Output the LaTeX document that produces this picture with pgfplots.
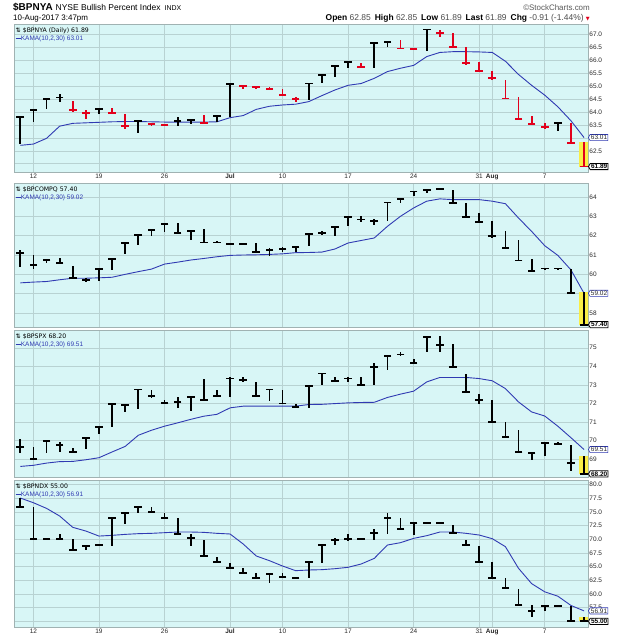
\documentclass[border=0pt]{standalone}
\usepackage{fontspec}
\setmainfont{Liberation Sans}
\newfontfamily\dejavu{DejaVu Sans}
\usepackage{pgfplots}
\pgfplotsset{compat=1.18}
\usepackage{pgfplotstable}
\usetikzlibrary{shapes.symbols}

\definecolor{bgc}{RGB}{216,246,246}
\definecolor{gridc}{RGB}{184,210,210}
\definecolor{framec}{RGB}{160,178,178}
\definecolor{kamac}{RGB}{48,58,178}
\definecolor{dnc}{RGB}{226,0,28}
\definecolor{hlc}{RGB}{250,238,70}
\definecolor{txtc}{RGB}{40,40,40}

\newcommand\fs[1]{\fontsize{#1}{#1}\selectfont}

\pgfplotsset{
  panel/.style={
    scale only axis, width=574bp,
    xmin=-0.48, xmax=43.3,
    axis background/.style={fill=bgc},
    axis line style={draw=framec, line width=0.5bp},
    grid=major, major grid style={draw=gridc, line width=0.5bp},
    xtick={1,6,11,16,20,25,30,35,36,40},
    xticklabels={12,19,26,\textbf{Jul},10,17,24,31,\textbf{Aug},7},
    xticklabel style={font=\fs{6.5}, text=txtc, inner sep=1.5bp},
    yticklabel pos=right,
    yticklabel style={font=\fs{6.5}, text=txtc, inner sep=1.2bp, anchor=west},
    major tick length=0pt,
    /pgf/number format/assume math mode=true,
    anchor=north west,
  },
  nolabels/.style={xticklabels={}},
  hl/.style={forget plot, draw=none, mark=none,
    error bars/y dir=both, error bars/y explicit, error bars/error mark=none,
    error bars/error bar style={draw=hlc, line width=10bp, solid}},
  rng/.style={forget plot, draw=none, mark=none,
    error bars/y dir=both, error bars/y explicit, error bars/error mark=none,
    error bars/error bar style={draw=#1, line width=1.8bp, solid}},
  cls/.style={forget plot, only marks, mark=-, mark size=3.8bp, color=#1,
    mark options={draw=#1, line width=1.8bp, solid}},
  kama/.style={forget plot, no marks, draw=kamac, line width=0.9bp},
}
\tikzset{
  tagk/.style={signal, signal to=west, signal pointer angle=120, draw=kamac,
    fill=white, line width=0.6bp, inner sep=0.8bp, font=\fs{6.5}, text=txtc, anchor=west},
  tagc/.style={signal, signal to=west, signal pointer angle=120, draw=black,
    fill=white, line width=0.8bp, inner sep=0.8bp, font=\bfseries\fs{6.5}, anchor=west},
}

% x = trading day (0 = 9 Jun 2017 ... 43 = 10 Aug 2017); h/l/c = high, low, close; k = KAMA(10,2,30)
\pgfplotstableread{
x h l c k dn
0 63.79 62.78 63.79 62.71 0
1 64.07 63.62 64.07 62.76 0
2 64.49 64.10 64.49 62.98 0
3 64.69 64.40 64.56 63.45 0
4 64.43 64.00 64.07 63.56 1
5 64.07 63.72 63.97 63.58 1
6 64.11 63.94 64.11 63.60 0
7 64.14 63.94 63.96 63.62 1
8 63.92 63.36 63.45 63.63 1
9 63.69 63.17 63.66 63.63 0
10 63.58 63.47 63.53 63.62 1
11 63.55 63.44 63.49 63.61 1
12 63.79 63.47 63.66 63.61 0
13 63.72 63.53 63.69 63.61 0
14 63.88 63.53 63.56 63.61 1
15 63.88 63.62 63.84 63.62 0
16 65.08 63.82 65.08 63.78 0
17 65.02 64.87 65.00 63.86 1
18 64.99 64.87 64.95 64.10 1
19 64.95 64.87 64.90 64.22 1
20 64.87 64.61 64.65 64.27 1
21 64.56 64.40 64.49 64.30 1
22 65.10 64.46 65.10 64.40 0
23 65.43 65.13 65.43 64.63 0
24 65.78 65.36 65.78 64.85 0
25 65.95 65.68 65.92 65.03 0
26 65.88 65.72 65.74 65.10 1
27 66.68 65.68 66.68 65.30 0
28 66.72 66.52 66.69 65.56 0
29 66.78 66.43 66.45 65.69 1
30 66.46 66.40 66.42 65.80 1
31 67.19 66.37 67.19 66.14 0
32 67.17 66.88 67.04 66.30 1
33 67.04 66.46 66.52 66.33 1
34 66.52 65.81 65.88 66.33 1
35 65.94 65.55 65.58 66.32 1
36 65.60 65.23 65.30 66.30 1
37 65.23 64.50 64.52 65.96 1
38 64.59 63.71 63.74 65.45 1
39 63.84 63.50 63.52 65.03 1
40 63.58 63.36 63.43 64.65 1
41 63.58 63.27 63.56 64.20 0
42 63.56 62.76 62.80 63.66 1
43 62.85 61.89 61.89 63.01 1
}\nya

\pgfplotstableread{
x h l c k
0 61.27 60.37 61.10 59.56
1 61.00 60.27 60.50 59.60
2 60.75 60.58 60.75 59.63
3 60.84 60.58 60.60 59.72
4 60.41 59.80 59.82 59.80
5 59.80 59.63 59.72 59.80
6 60.30 59.68 60.29 59.82
7 60.80 60.23 60.80 59.85
8 61.62 61.06 61.62 60.00
9 62.05 61.53 62.05 60.14
10 62.30 61.96 62.30 60.27
11 62.62 62.20 62.60 60.53
12 62.65 62.10 62.12 60.63
13 62.26 61.79 62.24 60.74
14 62.34 61.62 61.65 60.82
15 61.70 61.60 61.65 60.91
16 61.60 61.53 61.56 60.98
17 61.62 61.53 61.58 61.00
18 61.62 61.13 61.17 61.01
19 61.36 60.96 61.27 61.03
20 61.40 61.15 61.30 61.06
21 61.44 61.17 61.40 61.12
22 62.13 61.44 62.10 61.13
23 62.22 62.05 62.13 61.15
24 62.48 62.00 62.45 61.31
25 63.00 62.48 62.96 61.62
26 63.00 62.69 62.83 61.75
27 62.84 62.57 62.74 61.88
28 63.74 62.74 63.71 62.48
29 63.95 63.69 63.90 63.00
30 64.31 64.03 64.28 63.43
31 64.38 64.20 64.35 63.78
32 64.47 64.35 64.43 63.90
33 64.38 63.65 63.69 63.86
34 63.69 62.91 62.96 63.86
35 63.17 62.65 62.69 63.86
36 62.74 61.86 62.00 63.78
37 62.22 61.32 61.36 63.65
38 61.75 60.67 60.72 62.91
39 60.79 60.15 60.18 62.22
40 60.35 60.22 60.30 61.48
41 60.33 60.25 60.30 60.98
42 60.27 59.03 59.03 60.23
43 59.11 57.40 57.40 59.02
}\compq

\pgfplotstableread{
x h l c k
0 70.10 69.33 69.65 68.60
1 69.65 68.96 69.00 68.66
2 69.98 69.32 69.98 68.78
3 69.92 69.40 69.74 68.86
4 69.62 69.32 69.38 68.87
5 70.16 69.56 70.15 68.96
6 70.77 70.37 70.73 69.07
7 72.00 70.73 71.95 69.38
8 71.95 71.54 71.92 69.68
9 72.80 71.72 72.75 70.28
10 72.71 72.31 72.39 70.55
11 72.17 71.95 72.03 70.77
12 72.35 71.77 72.08 70.95
13 72.39 71.60 72.35 71.14
14 73.34 72.17 72.17 71.31
15 72.75 72.39 72.42 71.41
16 73.40 72.35 73.34 71.76
17 73.40 73.16 73.25 71.85
18 73.16 72.35 72.39 71.85
19 72.80 72.14 72.75 71.85
20 72.75 71.95 71.99 71.85
21 71.95 71.77 71.81 71.85
22 72.98 71.77 72.95 71.94
23 73.65 72.98 73.61 71.95
24 73.40 73.16 73.22 71.99
25 73.43 73.16 73.34 72.03
26 73.40 72.98 73.00 72.05
27 74.19 72.98 73.97 72.06
28 74.60 73.79 74.57 72.32
29 74.78 74.55 74.64 72.50
30 74.42 74.15 74.19 72.66
31 75.63 74.78 75.59 73.16
32 75.63 74.78 75.14 73.40
33 75.23 73.97 73.97 73.40
34 73.58 72.57 72.62 73.40
35 72.50 71.99 72.17 73.34
36 72.17 70.95 71.00 73.22
37 71.00 70.15 70.19 72.80
38 70.55 69.32 69.38 72.08
39 69.38 68.96 69.32 71.54
40 69.92 69.14 69.88 71.32
41 69.94 69.79 69.83 70.77
42 69.74 68.35 68.78 70.15
43 69.14 68.20 68.20 69.51
}\spx

\pgfplotstableread{
x h l c k
0 77.50 75.85 75.98 77.56
1 75.85 69.88 70.00 76.70
2 70.05 69.95 70.00 75.67
3 70.98 69.88 70.00 74.27
4 70.00 67.93 68.05 72.20
5 68.90 68.05 68.78 71.52
6 69.02 68.90 68.96 70.60
7 73.84 68.78 73.84 70.73
8 74.88 72.80 74.88 70.91
9 75.85 74.76 75.85 71.04
10 75.85 74.88 74.94 71.10
11 74.76 73.84 73.84 71.22
12 73.84 70.79 70.91 71.34
13 70.98 68.78 70.18 71.34
14 69.88 66.83 66.95 71.28
15 66.83 65.73 65.85 71.10
16 65.73 64.70 64.82 70.98
17 64.82 63.78 63.90 69.15
18 63.90 62.87 62.99 66.95
19 63.66 61.95 63.66 66.10
20 63.90 62.99 63.05 65.12
21 63.05 62.93 62.99 64.27
22 66.10 62.87 65.91 64.39
23 69.09 65.73 68.96 64.45
24 70.18 68.96 69.88 64.63
25 70.91 69.76 70.00 64.88
26 70.05 69.95 70.00 65.49
27 71.83 69.88 71.10 66.52
28 74.88 70.98 73.96 68.96
29 73.84 71.83 71.83 69.39
30 73.05 70.79 72.93 70.18
31 72.98 72.88 72.93 70.67
32 72.98 72.88 72.93 71.34
33 72.62 70.90 71.10 71.34
34 69.88 68.78 68.90 71.10
35 68.78 65.73 65.85 70.79
36 65.91 62.87 62.99 70.12
37 62.99 60.85 61.04 68.66
38 60.85 57.80 57.93 64.70
39 58.00 55.85 56.95 61.90
40 57.93 56.95 57.80 60.40
41 57.92 57.82 57.87 59.60
42 57.80 55.00 55.00 57.90
43 55.85 55.00 55.00 56.91
}\ndx

\newcommand\hlbar[1]{\addplot[hl, restrict x to domain=42.5:43.5] table[x=x,
  y expr={0.5*(\thisrow{h}+\thisrow{l})}, y error expr={0.5*(\thisrow{h}-\thisrow{l})}]{#1};}
\newcommand\ohlc[1]{%
  \addplot[rng=black] table[x=x, y expr={0.5*(\thisrow{h}+\thisrow{l})},
    y error expr={0.5*(\thisrow{h}-\thisrow{l})}]{#1};
  \addplot[cls=black] table[x=x,y=c]{#1};}

\begin{document}
\begin{tikzpicture}
\useasboundingbox (0,0) rectangle (623bp,640bp);
\fill[white] (0,0) rectangle (623bp,640bp);

% header
\node[anchor=base west, inner sep=0] at (13bp,629bp)
  {{\bfseries\fs{10}\$BPNYA}\hspace{3bp}{\fs{8.5}NYSE Bullish Percent Index}\hspace{4bp}{\fs{7}INDX}};
\node[anchor=base west, inner sep=0, font=\fs{8}] at (13bp,619bp) {10-Aug-2017 3:47pm};
\node[anchor=base east, inner sep=0, font=\fs{8}, text=black!65] at (590bp,629bp) {\textcopyright StockCharts.com};
\node[anchor=base east, inner sep=0, font=\fs{8.5}] at (590bp,619bp)
  {\textbf{Open} {\color{black!70}62.85}\hspace{4bp}\textbf{High} {\color{black!70}62.85}\hspace{4bp}%
   \textbf{Low} {\color{black!70}61.89}\hspace{4bp}\textbf{Last} {\color{black!70}61.89}\hspace{4bp}%
   \textbf{Chg} {\color{black!70}-0.91 (-1.44\%)} {\dejavu\fs{5}\color{dnc}▼}};

% panel 1: $BPNYA
\begin{axis}[panel, at={(14bp,616bp)}, height=148bp, ymin=61.68, ymax=67.4,
  ytick={62,62.5,63,63.5,64,64.5,65,65.5,66,66.5,67},
  yticklabels={,62.5,,63.5,64.0,64.5,65.0,65.5,66.0,66.5,67.0}]
\hlbar{\nya}
\addplot[kama] table[x=x,y=k]{\nya};
\addplot[rng=black, restrict expr to domain={\thisrow{dn}}{-0.5:0.5}] table[x=x,
  y expr={0.5*(\thisrow{h}+\thisrow{l})}, y error expr={0.5*(\thisrow{h}-\thisrow{l})}]{\nya};
\addplot[cls=black, restrict expr to domain={\thisrow{dn}}{-0.5:0.5}] table[x=x,y=c]{\nya};
\addplot[rng=dnc, restrict expr to domain={\thisrow{dn}}{0.5:1.5}] table[x=x,
  y expr={0.5*(\thisrow{h}+\thisrow{l})}, y error expr={0.5*(\thisrow{h}-\thisrow{l})}]{\nya};
\addplot[cls=dnc, restrict expr to domain={\thisrow{dn}}{0.5:1.5}] table[x=x,y=c]{\nya};
\coordinate (tl1) at (rel axis cs:0,1);
\coordinate (k1) at (axis cs:43.3,63.01);
\coordinate (c1) at (axis cs:43.3,61.89);
\end{axis}

% panel 2: $BPCOMPQ
\begin{axis}[panel, nolabels, at={(14bp,457bp)}, height=144bp, ymin=57.28, ymax=64.72,
  ytick={58,59,60,61,62,63,64}, yticklabels={58,,60,61,62,63,64}]
\hlbar{\compq}
\addplot[kama] table[x=x,y=k]{\compq};
\ohlc{\compq}
\coordinate (tl2) at (rel axis cs:0,1);
\coordinate (k2) at (axis cs:43.3,59.02);
\coordinate (c2) at (axis cs:43.3,57.40);
\end{axis}

% panel 3: $BPSPX
\begin{axis}[panel, nolabels, at={(14bp,310bp)}, height=147bp, ymin=68.03, ymax=75.96,
  ytick={69,70,71,72,73,74,75}]
\hlbar{\spx}
\addplot[kama] table[x=x,y=k]{\spx};
\ohlc{\spx}
\coordinate (tl3) at (rel axis cs:0,1);
\coordinate (k3) at (axis cs:43.3,69.51);
\coordinate (c3) at (axis cs:43.3,68.20);
\end{axis}

% panel 4: $BPNDX
\begin{axis}[panel, at={(14bp,160bp)}, height=147bp, ymin=53.96, ymax=80.86,
  ytick={55,57.5,60,62.5,65,67.5,70,72.5,75,77.5,80},
  yticklabels={,57.5,60.0,62.5,65.0,67.5,70.0,72.5,75.0,77.5,80.0}]
\hlbar{\ndx}
\addplot[kama] table[x=x,y=k]{\ndx};
\ohlc{\ndx}
\coordinate (tl4) at (rel axis cs:0,1);
\coordinate (k4) at (axis cs:43.3,56.91);
\coordinate (c4) at (axis cs:43.3,55.00);
\end{axis}

% price tags
\node[tagk] at (k1) {63.01}; \node[tagc] at (c1) {61.89};
\node[tagk] at (k2) {59.02}; \node[tagc] at (c2) {57.40};
\node[tagk] at (k3) {69.51}; \node[tagc] at (c3) {68.20};
\node[tagk] at (k4) {56.91}; \node[tagc] at (c4) {55.00};

% legends
\foreach \p/\nm/\kv in {1/{\$BPNYA (Daily) 61.89}/63.01, 2/{\$BPCOMPQ 57.40}/59.02,
                        3/{\$BPSPX 68.20}/69.51, 4/{\$BPNDX 55.00}/56.91}{
  \node[anchor=base west, inner sep=0, font=\dejavu\fs{6.2}] at ([xshift=1.5bp,yshift=-8.3bp]tl\p) {⇅ \nm};
  \node[anchor=base west, inner sep=0, font=\fs{6.5}, text=kamac] at ([xshift=1.5bp,yshift=-17bp]tl\p)
    {\rule[0.28em]{0.8em}{1bp}KAMA(10,2,30) \kv};
}
\end{tikzpicture}
\end{document}
